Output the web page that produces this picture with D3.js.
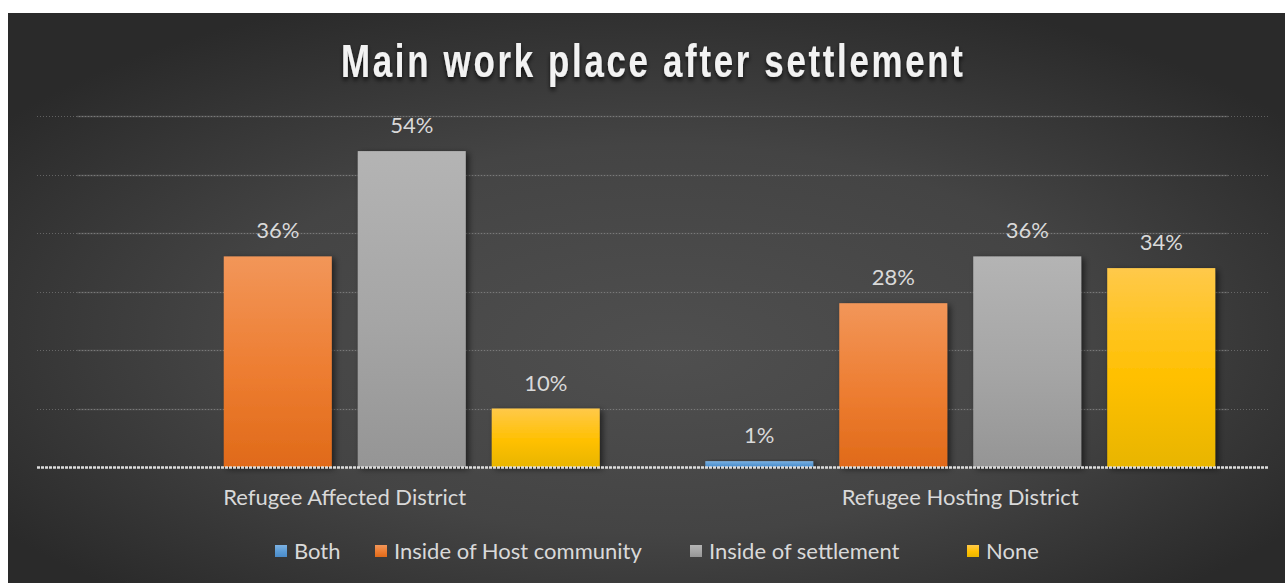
<!DOCTYPE html>
<html>
<head>
<meta charset="utf-8">
<script src="https://cdn.jsdelivr.net/npm/d3@7"></script>
<style>
  html, body { margin: 0; padding: 0; background: #ffffff; }
  svg { display: block; }
</style>
</head>
<body>
<svg id="chart" width="1285" height="583"></svg>
<script>
// ---- data ----
const title = "Main work place after settlement";
const districts = ["Refugee Affected District", "Refugee Hosting District"];
const seriesNames = ["Both", "Inside of Host community", "Inside of settlement", "None"];
const both = [null, 1];
const insideHost = [36, 28];
const insideSettlement = [54, 36];
const none = [10, 34];
const yTicks = [0, 10, 20, 30, 40, 50, 60];

const seriesValues = [both, insideHost, insideSettlement, none];

// ---- styling ----
const fills = [
  { top: "#7cb1e2", mid: "#5b9bd5", bot: "#4a8bc9" },
  { top: "#f29659", mid: "#ed7d31", bot: "#e06a19" },
  { top: "#b4b4b4", mid: "#a5a5a5", bot: "#959595" },
  { top: "#ffc94a", mid: "#ffc000", bot: "#e8b500" }
];
const textColor = "#d9d9d9";
const font = "Lato, 'Open Sans', sans-serif";
const labelSize = 22;

const W = 1285, H = 583;
const frame = { x: 8, y: 13, w: W - 8, h: H - 13 };
const plot = { left: 37, right: 1268, top: 116, bottom: 467 };

const svg = d3.select("#chart");
const defs = svg.append("defs");

// background: soft radial glow in the middle, dark at the edges
const bgGrad = defs.append("radialGradient").attr("id", "bg")
  .attr("cx", "50%").attr("cy", "55%").attr("r", "62%")
  .attr("fx", "52%").attr("fy", "60%");
bgGrad.append("stop").attr("offset", "0%").attr("stop-color", "#4f4f4f");
bgGrad.append("stop").attr("offset", "55%").attr("stop-color", "#444444");
bgGrad.append("stop").attr("offset", "100%").attr("stop-color", "#2a2a2a");

fills.forEach((f, i) => {
  const g = defs.append("linearGradient").attr("id", "bar" + i)
    .attr("x1", 0).attr("y1", 0).attr("x2", 0).attr("y2", 1);
  g.append("stop").attr("offset", "0%").attr("stop-color", f.top);
  g.append("stop").attr("offset", "55%").attr("stop-color", f.mid);
  g.append("stop").attr("offset", "100%").attr("stop-color", f.bot);
});

const shadow = defs.append("filter").attr("id", "barShadow")
  .attr("x", "-20%").attr("y", "-20%").attr("width", "150%").attr("height", "140%");
shadow.append("feDropShadow").attr("dx", 3).attr("dy", 2).attr("stdDeviation", 3)
  .attr("flood-color", "#000").attr("flood-opacity", 0.55);

const titleShadow = defs.append("filter").attr("id", "titleShadow")
  .attr("x", "-10%").attr("y", "-30%").attr("width", "120%").attr("height", "180%");
titleShadow.append("feDropShadow").attr("dx", 0).attr("dy", 3).attr("stdDeviation", 2.5)
  .attr("flood-color", "#000").attr("flood-opacity", 0.75);

svg.append("rect")
  .attr("x", frame.x).attr("y", frame.y).attr("width", frame.w).attr("height", frame.h)
  .attr("fill", "url(#bg)");

// ---- scales ----
const x0 = d3.scaleBand().domain(districts).range([plot.left, plot.right]).padding(0);
const x1 = d3.scaleBand().domain(seriesNames).range([0, x0.bandwidth()])
  .paddingInner(0.194).paddingOuter(0.394);
const y = d3.scaleLinear().domain([0, 60]).range([plot.bottom, plot.top]);

// ---- gridlines: faint solid rule with a dotted overlay ----
const grid = svg.append("g");
const gridTicks = yTicks.filter(t => t > 0);
grid.selectAll("line.solid").data(gridTicks).join("line")
  .attr("class", "solid")
  .attr("x1", plot.left + 40).attr("x2", plot.right - 40)
  .attr("y1", d => Math.round(y(d)) + 0.5).attr("y2", d => Math.round(y(d)) + 0.5)
  .attr("stroke", "#555555").attr("stroke-width", 1.5);
grid.selectAll("line.dots").data(gridTicks).join("line")
  .attr("class", "dots")
  .attr("x1", plot.left).attr("x2", plot.right)
  .attr("y1", d => Math.round(y(d)) + 0.5).attr("y2", d => Math.round(y(d)) + 0.5)
  .attr("stroke", "#b0b0b0").attr("stroke-width", 1)
  .attr("stroke-dasharray", "1,2").attr("stroke-opacity", 0.4);

// ---- bars ----
const rows = [];
districts.forEach((d, di) => {
  seriesNames.forEach((s, si) => {
    rows.push({ district: d, series: s, si, value: seriesValues[si][di] });
  });
});
const present = rows.filter(r => r.value != null);

svg.append("g").selectAll("rect").data(present).join("rect")
  .attr("x", r => x0(r.district) + x1(r.series))
  .attr("y", r => y(r.value))
  .attr("width", x1.bandwidth())
  .attr("height", r => y(0) - y(r.value))
  .attr("fill", r => `url(#bar${r.si})`)
  .attr("filter", "url(#barShadow)");

// ---- baseline ----
svg.append("line")
  .attr("x1", plot.left).attr("x2", plot.right)
  .attr("y1", y(0) + 0.5).attr("y2", y(0) + 0.5)
  .attr("stroke", "#dcdcdc").attr("stroke-width", 2.5)
  .attr("stroke-dasharray", "3,1");

// ---- value labels ----
svg.append("g").selectAll("text").data(present).join("text")
  .attr("x", r => x0(r.district) + x1(r.series) + x1.bandwidth() / 2)
  .attr("y", r => y(r.value) - 18)
  .attr("text-anchor", "middle")
  .attr("font-family", font).attr("font-size", labelSize)
  .attr("fill", textColor)
  .text(r => r.value + "%");

// ---- category axis labels ----
svg.append("g").selectAll("text").data(districts).join("text")
  .attr("x", d => x0(d) + x0.bandwidth() / 2)
  .attr("y", 505)
  .attr("text-anchor", "middle")
  .attr("font-family", font).attr("font-size", labelSize)
  .attr("fill", textColor)
  .text(d => d);

// ---- title: condensed bold face, widely tracked ----
const squeeze = 0.76;
svg.append("text")
  .attr("transform", `translate(652,77) scale(${squeeze},1)`)
  .attr("x", 0).attr("y", 0)
  .attr("text-anchor", "middle")
  .attr("font-family", "'Liberation Sans', Arial, sans-serif")
  .attr("font-weight", "bold").attr("font-size", 46)
  .attr("textLength", 622 / squeeze).attr("lengthAdjust", "spacing")
  .attr("fill", "#f2f2f2")
  .attr("filter", "url(#titleShadow)")
  .text(title);

// ---- legend ----
const legendX = [275, 375, 690, 967];
const legend = svg.append("g").selectAll("g").data(seriesNames).join("g")
  .attr("transform", (d, i) => `translate(${legendX[i]},551)`);
legend.append("rect")
  .attr("x", 0).attr("y", -6).attr("width", 12).attr("height", 12)
  .attr("fill", (d, i) => `url(#bar${i})`);
legend.append("text")
  .attr("x", 19).attr("y", 8)
  .attr("font-family", font).attr("font-size", labelSize)
  .attr("fill", textColor)
  .text(d => d);
</script>
</body>
</html>
